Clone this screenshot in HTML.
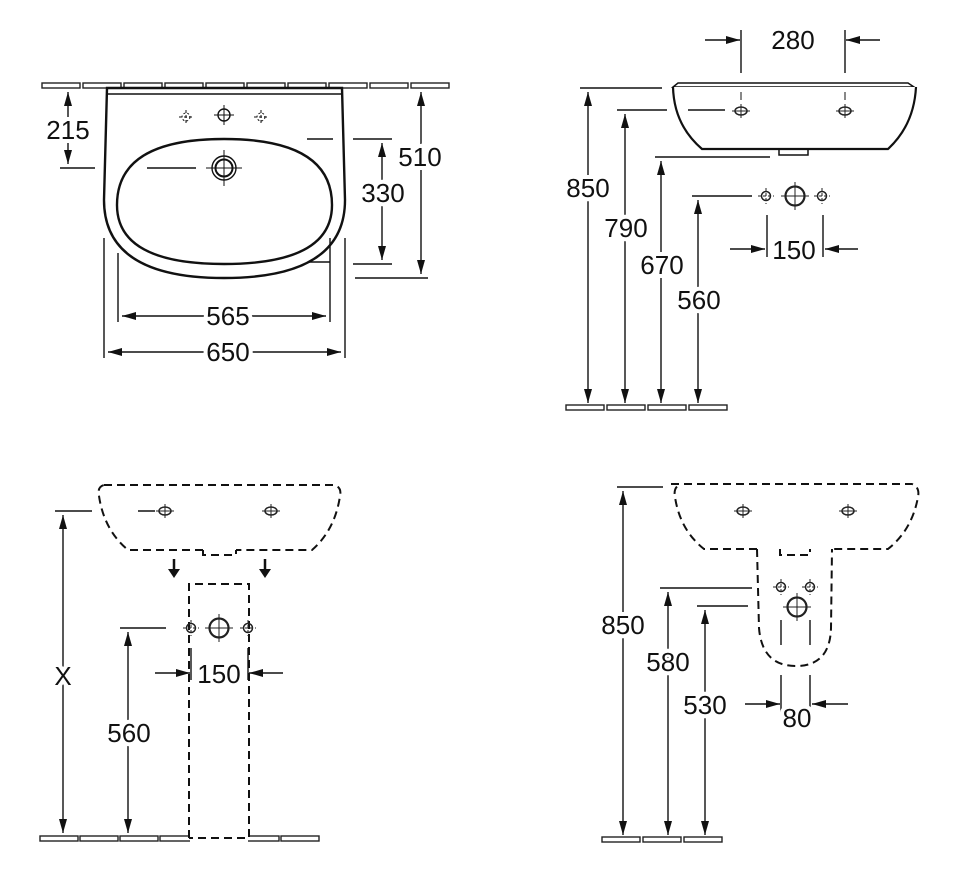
<!DOCTYPE html>
<html><head><meta charset="utf-8"><style>
html,body{margin:0;padding:0;background:#fff}
svg{display:block}
text{font-family:"Liberation Sans",Arial,sans-serif;font-size:26px;fill:#111;text-anchor:middle;dominant-baseline:central;paint-order:stroke;stroke:#fff;stroke-width:8px}
</style></head><body>
<svg width="960" height="885" viewBox="0 0 960 885" xmlns="http://www.w3.org/2000/svg">
<defs>
<marker id="a" viewBox="0 0 10 10" refX="10" refY="5" markerWidth="14" markerHeight="8" markerUnits="userSpaceOnUse" orient="auto-start-reverse" preserveAspectRatio="none"><path d="M0,0L10,5L0,10z" fill="#111"/></marker>
<g id="tile"><rect x="0" y="0" width="38" height="5" fill="#fff" stroke="#222" stroke-width="1.4"/></g>
<g id="hs"><circle r="4.5" fill="none" stroke="#222" stroke-width="1.5"/><path d="M-8,0H8M0,-8V8" stroke="#222" stroke-width="1" stroke-dasharray="3,2"/></g>
<g id="hl"><circle r="9.5" fill="none" stroke="#222" stroke-width="2.2"/><path d="M-14,0H14M0,-14V14" stroke="#222" stroke-width="1"/></g>
<g id="ho"><ellipse rx="6" ry="4" fill="none" stroke="#222" stroke-width="1.5"/><path d="M-9,0H9M0,-7V7" stroke="#222" stroke-width="1"/></g>
</defs>
<g stroke="#111" stroke-width="1.4" fill="none">

<!-- TOP LEFT -->
<use href="#tile" x="42" y="83"/><use href="#tile" x="83" y="83"/><use href="#tile" x="124" y="83"/><use href="#tile" x="165" y="83"/><use href="#tile" x="206" y="83"/><use href="#tile" x="247" y="83"/><use href="#tile" x="288" y="83"/><use href="#tile" x="329" y="83"/><use href="#tile" x="370" y="83"/><use href="#tile" x="411" y="83"/>
<path d="M107,88 L104,200 Q104,278 224,278 Q345,278 345,200 L342,88 Z" fill="#fff" stroke-width="2.4"/>
<path d="M108,94 H341" stroke-width="1.5"/>
<path d="M224,139 Q332,139 332,205 Q332,264 224,264 Q117,264 117,205 Q117,139 224,139 Z" stroke-width="2.4"/>
<g stroke-width="1"><circle cx="186" cy="117" r="4" stroke-dasharray="2,2"/><path d="M179,117h14M186,110v14" stroke-dasharray="3,2"/><circle cx="261" cy="117" r="4" stroke-dasharray="2,2"/><path d="M254,117h14M261,110v14" stroke-dasharray="3,2"/></g>
<circle cx="224" cy="115" r="6" stroke-width="1.4"/><path d="M214,115h20M224,105v20" stroke-width="1"/>
<circle cx="224" cy="168" r="12" stroke-width="1.4"/><circle cx="224" cy="168" r="8.5" stroke-width="2"/><path d="M206,168h36M224,150v36" stroke-width="1"/>
<path d="M147,168H196"/>
<path d="M60,168H95"/>
<path d="M68,92V164" marker-start="url(#a)" marker-end="url(#a)"/>
<path d="M307,139H333M353,139H392M353,264H392"/>
<path d="M382,143V260" marker-start="url(#a)" marker-end="url(#a)"/>
<path d="M355,278H428"/>
<path d="M421,92V274" marker-start="url(#a)" marker-end="url(#a)"/>
<path d="M118,253V322M330,238V322M104,238V358M345,238V358"/>
<path d="M122,316H326" marker-start="url(#a)" marker-end="url(#a)"/>
<path d="M108,352H341" marker-start="url(#a)" marker-end="url(#a)"/>
<path d="M308,262H330" />

<!-- TOP RIGHT -->
<path d="M741,30V73M845,30V73"/>
<path d="M705,40H740" marker-end="url(#a)"/><path d="M880,40H846" marker-end="url(#a)"/>
<path d="M678,83H908L914,87H673Z" stroke-width="1.5"/>
<path d="M673,87 Q674,125 702,149 H888 Q914,125 916,87" stroke-width="2.2" fill="#fff"/>
<path d="M779,149v6h29v-6" stroke-width="1.5"/>
<path d="M741,92v8M845,92v8" stroke-width="1"/>
<use href="#ho" x="741" y="111"/><use href="#ho" x="845" y="111"/>
<path d="M580,88H662M617,110H667M688,110H725M655,157H770M692,196H752"/>
<path d="M588,92V403" marker-start="url(#a)" marker-end="url(#a)"/>
<path d="M625,114V403" marker-start="url(#a)" marker-end="url(#a)"/>
<path d="M661,161V403" marker-start="url(#a)" marker-end="url(#a)"/>
<path d="M698,200V403" marker-start="url(#a)" marker-end="url(#a)"/>
<use href="#tile" x="566" y="405"/><use href="#tile" x="607" y="405"/><use href="#tile" x="648" y="405"/><use href="#tile" x="689" y="405"/>
<use href="#hs" x="766" y="196"/><use href="#hl" x="795" y="196"/><use href="#hs" x="822" y="196"/>
<path d="M767,215V257M823,215V257"/>
<path d="M730,249H765" marker-end="url(#a)"/><path d="M858,249H825" marker-end="url(#a)"/>

<!-- BOTTOM -->
<use href="#tile" x="40" y="836"/><use href="#tile" x="80" y="836"/><use href="#tile" x="120" y="836"/><use href="#tile" x="160" y="836"/><use href="#tile" x="200" y="836"/><use href="#tile" x="241" y="836"/><use href="#tile" x="281" y="836"/>
<rect x="190" y="834" width="58" height="9" fill="#fff" stroke="none"/>
<g stroke-dasharray="8,5" stroke-width="2">
<path d="M104,485 H334 Q342,487 340,496 Q335,530 312,550 H236 M203,550 H128 Q104,530 99,496 Q97,487 104,485"/>
<path d="M203,550v5h33v-5"/>
<path d="M189,838V584H249V838H189"/>
<path d="M671,484 H912 Q920,487 918,497 Q912,530 888,549 H832 M757,549 H704 Q680,530 675,497 Q673,487 681,484"/>
<path d="M757,549 L759,628 Q762,666 796,666 Q830,666 831,628 L832,549"/>
<path d="M780,549v6h30v-6"/>
</g>
<use href="#ho" x="165" y="511"/><use href="#ho" x="271" y="511"/>
<path d="M138,511H155"/>
<path d="M174,559v14M265,559v14" stroke-width="2.5"/>
<path d="M168,569l6,9l6,-9zM259,569l6,9l6,-9z" fill="#111" stroke="none"/>
<use href="#hs" x="191" y="628"/><use href="#hl" x="219" y="628"/><use href="#hs" x="248" y="628"/>
<path d="M55,511H92M120,628H166"/>
<path d="M63,515V833" marker-start="url(#a)" marker-end="url(#a)"/>
<path d="M128,632V833" marker-start="url(#a)" marker-end="url(#a)"/>
<path d="M191,648V680M248,648V680"/>
<path d="M155,673H190" marker-end="url(#a)"/><path d="M283,673H249" marker-end="url(#a)"/>

<use href="#ho" x="743" y="511"/><use href="#ho" x="848" y="511"/>
<use href="#hs" x="781" y="587"/><use href="#hs" x="810" y="587"/><use href="#hl" x="797" y="607"/>
<path d="M781,620V645M810,620V645M781,675V712M810,675V712"/>
<path d="M745,704H780" marker-end="url(#a)"/><path d="M848,704H812" marker-end="url(#a)"/>
<path d="M617,487H663M660,588H752M697,606H748"/>
<path d="M623,491V835" marker-start="url(#a)" marker-end="url(#a)"/>
<path d="M668,592V835" marker-start="url(#a)" marker-end="url(#a)"/>
<path d="M705,610V835" marker-start="url(#a)" marker-end="url(#a)"/>
<use href="#tile" x="602" y="837"/><use href="#tile" x="643" y="837"/><use href="#tile" x="684" y="837"/>
</g>

<text x="68" y="130">215</text>
<text x="420" y="157">510</text>
<text x="383" y="193">330</text>
<text x="228" y="316">565</text>
<text x="228" y="352">650</text>
<text x="793" y="40">280</text>
<text x="588" y="188">850</text>
<text x="626" y="228">790</text>
<text x="662" y="265">670</text>
<text x="699" y="300">560</text>
<text x="794" y="250">150</text>
<text x="63" y="676">X</text>
<text x="129" y="733">560</text>
<text x="219" y="674">150</text>
<text x="623" y="625">850</text>
<text x="668" y="662">580</text>
<text x="705" y="705">530</text>
<text x="797" y="718">80</text>
</svg>
</body></html>
